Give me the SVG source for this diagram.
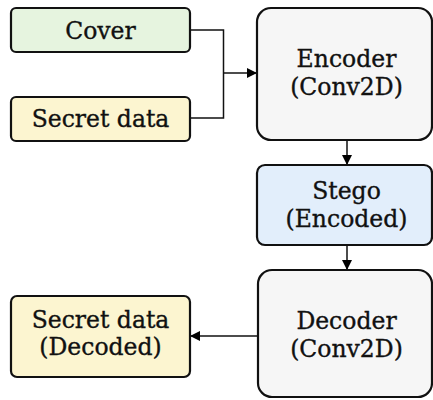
<svg xmlns="http://www.w3.org/2000/svg" width="433" height="400" viewBox="0 0 433 400">
  <defs>
    <marker id="arrow" viewBox="0 0 10 10" refX="10" refY="5" markerWidth="10" markerHeight="10" markerUnits="userSpaceOnUse" orient="auto" preserveAspectRatio="none">
      <path d="M0,0 L10,5 L0,10 z" fill="#000"/>
    </marker>
    <style>
      .box { stroke: #111; stroke-width: 2.2; }
      .lbl { font-family: "DejaVu Serif", serif; font-size: 23.5px; fill: #111; stroke: #111; stroke-width: 0.35; text-anchor: middle; }
      .wire { fill: none; stroke: #111; stroke-width: 1.5; }
    </style>
  </defs>
  <rect width="433" height="400" fill="#fff"/>

  <g id="connectors">
    <path class="wire" d="M190,30 H223.5 V118 H190"/>
    <path class="wire" d="M223.5,73 H257" marker-end="url(#arrow)"/>
    <path class="wire" d="M347,140 V165" marker-end="url(#arrow)"/>
    <path class="wire" d="M347,245 V270" marker-end="url(#arrow)"/>
    <path class="wire" d="M258,336 H190" marker-end="url(#arrow)"/>
  </g>

  <g id="cover">
    <rect class="box" x="11" y="8" width="179" height="44" rx="5" fill="#e6f4df"/>
    <text class="lbl" x="100.5" y="39">Cover</text>
  </g>
  <g id="secret">
    <rect class="box" x="11" y="97" width="179" height="44" rx="5" fill="#fcf5d0"/>
    <text class="lbl" x="100.5" y="127">Secret data</text>
  </g>
  <g id="encoder">
    <rect class="box" x="257" y="8" width="175" height="132" rx="14" fill="#f6f6f6"/>
    <text class="lbl" x="346.5" y="67">Encoder</text>
    <text class="lbl" x="346.5" y="95">(Conv2D)</text>
  </g>
  <g id="stego">
    <rect class="box" x="257" y="165" width="175" height="80" rx="8" fill="#e2eefb"/>
    <text class="lbl" x="346.5" y="199">Stego</text>
    <text class="lbl" x="346.5" y="227">(Encoded)</text>
  </g>
  <g id="decoder">
    <rect class="box" x="258" y="270" width="174" height="127" rx="14" fill="#f6f6f6"/>
    <text class="lbl" x="346.5" y="329">Decoder</text>
    <text class="lbl" x="346.5" y="357">(Conv2D)</text>
  </g>
  <g id="decoded">
    <rect class="box" x="11" y="296" width="179" height="81" rx="6" fill="#fcf5d0"/>
    <text class="lbl" x="100.5" y="328">Secret data</text>
    <text class="lbl" x="100.5" y="355">(Decoded)</text>
  </g>
</svg>
